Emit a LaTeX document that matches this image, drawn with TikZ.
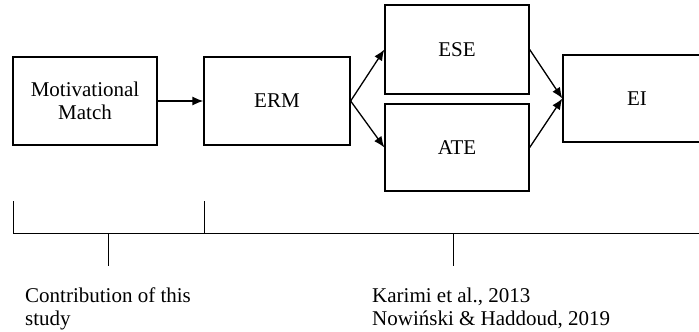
\documentclass[tikz,border=0pt]{standalone}
\usepackage{fontspec}
\setmainfont{Liberation Serif}
\usetikzlibrary{arrows.meta}
\begin{document}
\begin{tikzpicture}[x=1pt,y=-1pt,
        box/.style={draw,line width=1.3pt,inner sep=0pt,align=center,font=\fontsize{21}{23}\selectfont},
        link/.style={line width=1.3pt,-{Latex[length=11pt,width=9pt]}},
        brace/.style={line width=0.9pt},
        note/.style={anchor=north west,inner sep=0pt,align=left,font=\fontsize{21}{23}\selectfont}]
        \clip (0,0) rectangle (699,332);
        \node[box,minimum width=144pt,minimum height=88pt] (match) at (85,101) {Motivational\\Match};
        \node[box,minimum width=146pt,minimum height=88pt] (erm) at (277,101) {ERM};
        \node[box,minimum width=144pt,minimum height=89pt] (ese) at (457,49.5) {ESE};
        \node[box,minimum width=144pt,minimum height=87pt] (ate) at (457,147.5) {ATE};
        \node[box,minimum width=148pt,minimum height=87pt] (ei) at (637,98.5) {EI};
        \draw[link] (match) -- (erm);
        \draw[link] (erm.east) -- (ese.west);
        \draw[link] (erm.east) -- (ate.west);
        \draw[link] (ese.east) -- (ei.west);
        \draw[link] (ate.east) -- (ei.west);
        \coordinate (b1) at (13,233);
        \coordinate (b2) at (204,233);
        \coordinate (b3) at (699,233);
        \coordinate (t1) at (108,233);
        \coordinate (t2) at (453,233);
        \draw[brace] (13,201) -- (b1) -- (b3);
        \draw[brace] (204,201) -- (b2);
        \draw[brace] (t1) -- ++(0,33);
        \draw[brace] (t2) -- ++(0,33);
        \node[note] (own) at (25,287.5) {Contribution of this\\study};
        \node[note] (lit) at (372,287.5) {Karimi et al., 2013\\Nowiński \& Haddoud, 2019};
    \end{tikzpicture}
\end{document}
